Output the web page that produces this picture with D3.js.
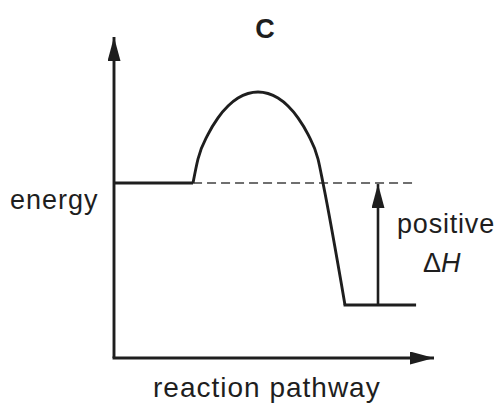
<!DOCTYPE html>
<html><head><meta charset="utf-8">
<script src="https://cdn.jsdelivr.net/npm/d3@7"></script>
<style>html,body{margin:0;padding:0;background:#fff;}svg{display:block;}</style>
</head><body>
<script>
// Data (abstract units: pathway 0-100, energy 0-100)
const title = "C";
const xLabel = "reaction pathway";
const yLabel = "energy";
const dhLabel = ["positive", "ΔH"];
const reactantEnergy = 54.5;
const productEnergy = 16.5;
const reactantSpan = [0, 24.7];
const productSpan = [72.2, 94.4];
const dashedEnd = 94.1;
const arrowPos = 82.5;
const curveX = [24.69, 26.25, 29.38, 32.5, 35.63, 38.75, 41.88, 45.0, 48.13, 51.25, 54.38, 57.5, 60.63, 63.75, 65.31, 72.19];
const curveY = [54.52, 61.99, 69.66, 74.83, 78.50, 80.97, 82.40, 82.87, 82.40, 80.97, 78.50, 74.83, 69.66, 61.99, 54.52, 16.51];

const W = 500, H = 406;
const svg = d3.select("body").append("svg").attr("width", W).attr("height", H);
const x = d3.scaleLinear().domain([0, 100]).range([114, 434]);
const y = d3.scaleLinear().domain([0, 100]).range([358, 37]);
const ink = "#1e1e1e";
const sw = 2.9;

// Arrow markers
const defs = svg.append("defs");
defs.append("marker").attr("id", "ah").attr("viewBox", "0 0 24 13")
  .attr("refX", 24).attr("refY", 6.5).attr("markerWidth", 24).attr("markerHeight", 13)
  .attr("markerUnits", "userSpaceOnUse").attr("orient", "auto")
  .append("path").attr("d", "M0,0 L24,6.5 L0,13 Z").attr("fill", ink);

// axes
svg.append("line").attr("x1", x(0)).attr("y1", y(0)).attr("x2", x(0)).attr("y2", y(100))
  .attr("stroke", ink).attr("stroke-width", sw).attr("marker-end", "url(#ah)");
svg.append("line").attr("x1", x(0) - sw / 2).attr("y1", y(0)).attr("x2", x(100)).attr("y2", y(0))
  .attr("stroke", ink).attr("stroke-width", sw).attr("marker-end", "url(#ah)");

// dashed reference
svg.append("line").attr("x1", x(reactantSpan[1])).attr("x2", x(dashedEnd))
  .attr("y1", y(reactantEnergy)).attr("y2", y(reactantEnergy))
  .attr("stroke", "#6f6f6f").attr("stroke-width", 2).attr("stroke-dasharray", "9,5");

// reactant level
svg.append("line").attr("x1", x(reactantSpan[0])).attr("x2", x(reactantSpan[1]))
  .attr("y1", y(reactantEnergy)).attr("y2", y(reactantEnergy))
  .attr("stroke", ink).attr("stroke-width", sw);
// product level
svg.append("line").attr("x1", x(productSpan[0]) - sw / 2).attr("x2", x(productSpan[1]))
  .attr("y1", y(productEnergy)).attr("y2", y(productEnergy))
  .attr("stroke", ink).attr("stroke-width", sw);

// curve
const pts = curveX.map((v, i) => [v, curveY[i]]);
const line = d3.line().x(d => x(d[0])).y(d => y(d[1])).curve(d3.curveMonotoneX);
svg.append("path").attr("d", line(pts)).attr("fill", "none")
  .attr("stroke", ink).attr("stroke-width", sw).attr("stroke-linejoin", "round");

// ΔH arrow
svg.append("line").attr("x1", x(arrowPos)).attr("x2", x(arrowPos))
  .attr("y1", y(productEnergy)).attr("y2", y(reactantEnergy) + 1)
  .attr("stroke", ink).attr("stroke-width", 2.6).attr("marker-end", "url(#ah)");

const font = "'Liberation Sans', Arial, Helvetica, sans-serif";
// title
svg.append("text").attr("x", 265).attr("y", 38).attr("text-anchor", "middle")
  .attr("font-family", font).attr("font-weight", "bold").attr("font-size", 27)
  .attr("fill", ink).text(title);
// y label
svg.append("text").attr("x", 10).attr("y", 209)
  .attr("font-family", font).attr("font-size", 27).attr("letter-spacing", 1)
  .attr("fill", ink).text(yLabel);
// x label
svg.append("text").attr("x", 153).attr("y", 397)
  .attr("font-family", font).attr("font-size", 28).attr("letter-spacing", 1)
  .attr("fill", ink).text(xLabel);
// ΔH labels
svg.append("text").attr("x", 397).attr("y", 233)
  .attr("font-family", font).attr("font-size", 27).attr("letter-spacing", 0.8)
  .attr("fill", ink).text(dhLabel[0]);
const dh = svg.append("text").attr("x", 423).attr("y", 272)
  .attr("font-family", font).attr("font-size", 27).attr("fill", ink);
dh.append("tspan").text(dhLabel[1][0]);
dh.append("tspan").attr("font-style", "italic").text(dhLabel[1].slice(1));
</script>
</body></html>
